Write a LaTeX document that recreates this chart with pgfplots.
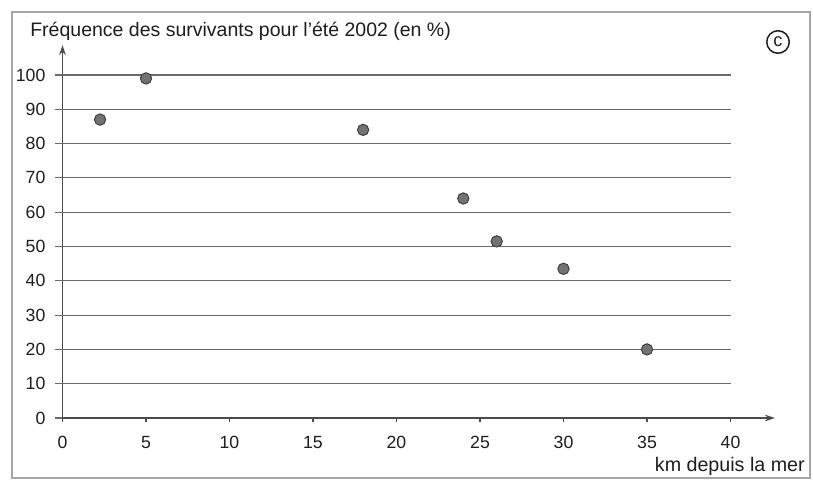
\documentclass[border=0pt]{standalone}
\usepackage{pgfplots}
\pgfplotsset{compat=1.18}
\usepackage{fontspec}
\setmainfont{Liberation Sans}
\usetikzlibrary{arrows.meta}
\definecolor{ink}{HTML}{1E1E1E}
\definecolor{gridc}{HTML}{6A6A6A}
\newcommand\PX[2]{({#1*0.6pt},{-#2*0.6pt})}
\begin{document}
\begin{tikzpicture}
\path[use as bounding box] \PX{0}{0} rectangle \PX{813}{480};
\draw[black!35, line width=0.8pt] \PX{12}{12} rectangle \PX{810}{478};
\begin{axis}[
  at={(37.5pt,-250.8pt)}, anchor=south west,
  x=10.02pt, y=2.058pt,
  xmin=0, xmax=42.66, ymin=0, ymax=108.7,
  axis lines=left,
  axis line style={draw=ink!80, line width=0.8pt, -{Stealth[length=6pt,width=4pt]}},
  xtick={0,5,...,40}, ytick={0,10,...,100},
  tick align=outside,
  xtick style={draw=ink!80, line width=0.7pt},
  ytick style={draw=none},
  major tick length=2.6pt,
  tick label style={font=\fontsize{10.6}{12}\selectfont, text=ink},
  /pgf/number format/assume math mode=true,
  xticklabel style={anchor=north, inner sep=0pt, yshift=-8pt},
  yticklabel style={anchor=east, inner sep=0pt, xshift=-7.5pt},
  clip=false,
]
\pgfplotsinvokeforeach{10,20,30,40,50,60,70,80,90,100}{
  \draw[gridc, line width=0.65pt] (axis cs:-0.45,#1) -- (axis cs:40,#1);
}
\draw[gridc, line width=0.65pt] (axis cs:-0.45,0) -- (axis cs:0,0);
\addplot[only marks, mark=*, mark size=3.4pt,
  mark options={fill=black!55, draw=black!75, line width=0.6pt}]
  coordinates {(2.25,87) (5,99) (18,84) (24,64) (26,51.5) (30,43.5) (35,20)};
\end{axis}
\node[anchor=base west, inner sep=0pt, text=ink, font=\fontsize{11.7}{14}\selectfont] at \PX{30}{36} {Fréquence des survivants pour l'été 2002 (en \%)};
\node[anchor=base east, inner sep=0pt, text=ink, font=\fontsize{11.8}{14}\selectfont] at \PX{805}{471} {km depuis la mer};
\node[circle, draw=ink, line width=0.9pt, inner sep=0.8pt, minimum size=13.5pt, text=ink, font=\fontsize{11}{12}\selectfont] at \PX{778}{42} {c};
\end{tikzpicture}
\end{document}
